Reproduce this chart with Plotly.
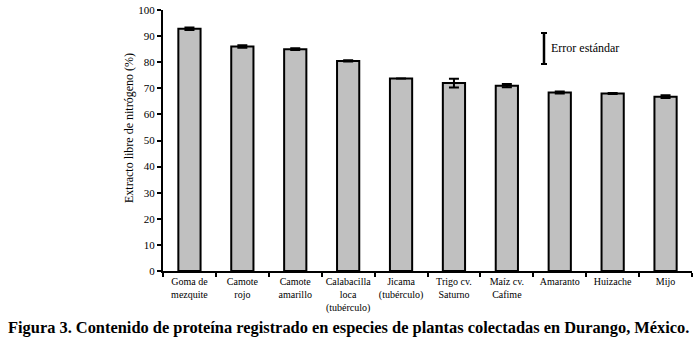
import plotly.graph_objects as go

categories = ["Goma de<br>mezquite", "Camote<br>rojo", "Camote<br>amarillo",
              "Calabacilla<br>loca<br>(tubérculo)", "Jicama<br>(tubérculo)",
              "Trigo cv.<br>Saturno", "Maíz cv.<br>Cafime", "Amaranto", "Huizache", "Mijo"]
values = [92.8, 86.0, 85.0, 80.5, 73.8, 72.0, 71.0, 68.4, 68.0, 66.8]
errors = [0.5, 0.5, 0.3, 0.2, 0.0, 1.7, 0.6, 0.4, 0.2, 0.5]
y_ticks = [0, 10, 20, 30, 40, 50, 60, 70, 80, 90, 100]

FONT = "Liberation Serif, Times New Roman, serif"

fig = go.Figure()
fig.add_trace(go.Bar(
    x=categories, y=values,
    marker=dict(color="#c0c0c0", line=dict(color="black", width=2)),
    width=0.42,
    error_y=dict(type="data", array=errors, visible=True, color="black",
                 thickness=2, width=5),
    showlegend=False,
))

fig.update_layout(
    width=697, height=345,
    margin=dict(l=163, r=5, t=10, b=74),
    paper_bgcolor="white", plot_bgcolor="white",
    font=dict(family=FONT, size=11, color="black"),
    bargap=0.58,
    xaxis=dict(
        showline=True, linecolor="black", linewidth=2,
        ticks="outside", tickson="boundaries", ticklen=4, tickwidth=2, tickcolor="black",
        tickfont=dict(family=FONT, size=10), tickangle=0, automargin=False,
        showgrid=False,
    ),
    yaxis=dict(
        range=[0, 100], tickvals=y_ticks, automargin=False,
        showline=True, linecolor="black", linewidth=2,
        ticks="outside", ticklen=4, tickwidth=2, tickcolor="black",
        tickfont=dict(family=FONT, size=11),
        showgrid=False, zeroline=False,
    ),
)

# y-axis title
fig.add_annotation(xref="paper", yref="paper", x=(129 - 163) / 529, y=(271 - 128) / 261,
                   text="Extracto libre de nitrógeno (%)", textangle=-90, showarrow=False,
                   xanchor="center", yanchor="middle", font=dict(family=FONT, size=12))

# legend for error bar
fig.add_shape(type="line", xref="paper", yref="paper",
              x0=(544 - 163) / 529, x1=(544 - 163) / 529,
              y0=(271 - 64) / 261, y1=(271 - 33) / 261,
              line=dict(color="black", width=2.5))
for yy in (33, 64):
    fig.add_shape(type="line", xref="paper", yref="paper",
                  x0=(541 - 163) / 529, x1=(547 - 163) / 529,
                  y0=(271 - yy) / 261, y1=(271 - yy) / 261,
                  line=dict(color="black", width=2))
fig.add_annotation(xref="paper", yref="paper", x=(549 - 163) / 529, y=(271 - 48) / 261,
                   text="Error estándar", showarrow=False, xanchor="left", yanchor="middle",
                   font=dict(family=FONT, size=12))

fig.add_annotation(xref="paper", yref="paper", x=(348 - 163) / 529, y=-(327 - 271) / 261,
                   text="<b>Figura 3. Contenido de proteína registrado en especies de plantas colectadas en Durango, México.</b>",
                   showarrow=False, xanchor="center", yanchor="middle",
                   font=dict(family=FONT, size=16.4))

fig.write_html("out.html", config={"displayModeBar": False},
               post_script="document.body.style.margin='0';")
